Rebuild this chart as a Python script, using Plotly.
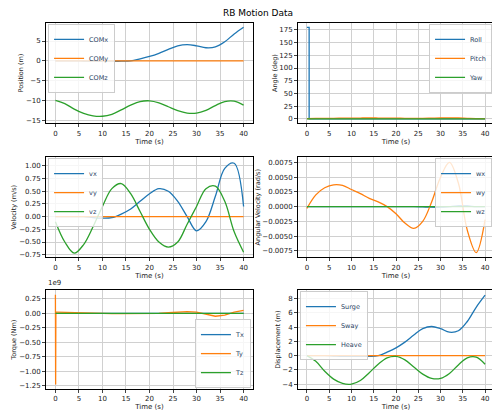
import plotly.graph_objects as go

t = list(range(0, 41, 2))
com_x = [0, 0, 0, -0.05, -0.1, -0.1, -0.1, -0.1, 0, 0.5, 1.1, 1.9, 2.9, 3.8, 4.1, 3.8, 3.3, 3.5, 4.8, 6.8, 8.5]
com_y = [0] * 21
com_z = [-10, -10.8, -12.2, -13.3, -13.9, -14, -13.5, -12.4, -11.2, -10.3, -10.1, -10.6, -11.6, -12.6, -13.2, -13.2, -12.5, -11.3, -10.3, -10.2, -11.2]
heave = [v + 10 for v in com_z]

t_roll = [0, 0.5, 0.5, 40]
roll = [180, 180, 0, 0]
pitch = [0.5, 0.8, 1.0, 1.0, 1.2, 1.4, 1.5, 1.6, 1.5, 1.4, 1.2, 1.0, 0.9, 1.0, 1.3, 1.6, 1.8, 1.6, 1.0, 0.5, 0.3]
yaw = [0] * 21

vx = [0, 0, 0, 0, -0.02, -0.03, -0.02, 0.05, 0.15, 0.3, 0.45, 0.55, 0.5, 0.3, 0, -0.28, -0.1, 0.4, 0.95, 1.05, 0.2]
vy = [0] * 21
vz = [-0.1, -0.5, -0.72, -0.55, -0.2, 0.2, 0.55, 0.65, 0.45, 0.1, -0.25, -0.5, -0.6, -0.5, -0.15, 0.2, 0.55, 0.6, 0.3, -0.3, -0.7]

wx = [0, 0, 0, 0, 0, 0, 0, 0, 0, 0, 0, 0, 0, -0.00005, -0.0001, -0.0001, 0, 0.0001, 0.0001, 0, 0]
wy = [-0.0003, 0.002, 0.0032, 0.0037, 0.0036, 0.0029, 0.0022, 0.0014, 0.0008, 0.0, -0.0012, -0.0028, -0.0037, -0.0025, 0.0008, 0.005, 0.0075, 0.004, -0.004, -0.0078, -0.0022]
wz = [0] * 21

t_torque = [0, 0.05, 0.1, 0.3] + list(range(2, 41, 2))
tx = [0] * 24
ty = [0.32, -1.23, 0.02, 0.02, 0.015, 0.01, 0.005, 0, -0.005, -0.005, -0.005, -0.005, -0.005, -0.005, 0, 0.01, 0.025, 0.03, 0.02, -0.02, -0.05, -0.03, 0.02, 0.05]
tz = [0] * 24

C = ['#1f77b4', '#ff7f0e', '#2ca02c']
fig = go.Figure()

xd = [[38/500, 245/500], [290/500, 486/500]]
yd = [[0.72, 0.964], [0.395, 0.638], [0.075, 0.315]]

panels = [
    (0, 0, [(t, com_x, 'COMx', 'spline'), (t, com_y, 'COMy', 'linear'), (t, com_z, 'COMz', 'spline')], 'Position (m)', [-15.8, 9.6], dict(x=0.01, y=0.99, xanchor='left', yanchor='top'), dict(dtick=5)),
    (0, 1, [(t_roll, roll, 'Roll', 'linear'), (t, pitch, 'Pitch', 'spline'), (t, yaw, 'Yaw', 'linear')], 'Angle (deg)', [-9, 189], dict(x=0.99, y=0.99, xanchor='right', yanchor='top'), dict(dtick=25)),
    (1, 0, [(t, vx, 'vx', 'spline'), (t, vy, 'vy', 'linear'), (t, vz, 'vz', 'spline')], 'Velocity (m/s)', [-0.8, 1.17], dict(x=0.01, y=0.99, xanchor='left', yanchor='top'), dict(dtick=0.25, tickformat='.2f')),
    (1, 1, [(t, wx, 'wx', 'spline'), (t, wy, 'wy', 'spline'), (t, wz, 'wz', 'linear')], 'Angular Velocity (rad/s)', [-0.0086, 0.0084], dict(x=0.99, y=0.99, xanchor='right', yanchor='top'), dict(dtick=0.0025, tickformat='.4f')),
    (2, 0, [(t_torque, tx, 'Tx', 'linear'), (t_torque, ty, 'Ty', 'linear'), (t_torque, tz, 'Tz', 'linear')], 'Torque (Nm)', [-1.31, 0.40], dict(x=0.99, y=0.01, xanchor='right', yanchor='bottom'), dict(dtick=0.25, tickformat='.2f')),
    (2, 1, [(t, com_x, 'Surge', 'spline'), (t, com_y, 'Sway', 'linear'), (t, heave, 'Heave', 'spline')], 'Displacement (m)', [-4.7, 9.2], dict(x=0.01, y=0.99, xanchor='left', yanchor='top'), dict(dtick=2)),
]

axfont = dict(family='DejaVu Sans', size=7, color='#222')
for i, (r, c, series, ylab, yr, lg, yextra) in enumerate(panels):
    n = i + 1
    xa = 'x' if n == 1 else f'x{n}'
    ya = 'y' if n == 1 else f'y{n}'
    lgname = 'legend' if n == 1 else f'legend{n}'
    for j, (xs, ys, name, shape) in enumerate(series):
        fig.add_trace(go.Scatter(x=xs, y=ys, name=name, mode='lines', line=dict(color=C[j], width=1.3, shape=shape),
                                 xaxis=xa, yaxis=ya, legend=lgname))
    common = dict(showline=True, linecolor='black', linewidth=0.8, mirror=True, showgrid=True, gridcolor='#d0d0d0',
                  gridwidth=0.8, zeroline=False, ticks='outside', ticklen=3, tickfont=axfont)
    fig.layout[f'xaxis{"" if n == 1 else n}'] = dict(domain=xd[c], anchor=ya, range=[-2, 42], dtick=5,
                                                     title=dict(text='Time (s)', font=axfont, standoff=1), **common)
    fig.layout[f'yaxis{"" if n == 1 else n}'] = dict(domain=yd[r], anchor=xa, range=yr,
                                                     title=dict(text=ylab, font=dict(family='DejaVu Sans', size=6.5, color='#222'), standoff=1), **common, **yextra)
    lgd = dict(xref='paper', yref='paper', bgcolor='rgba(255,255,255,0.8)', bordercolor='#ccc', borderwidth=1,
               font=dict(family='DejaVu Sans', size=6.5), itemwidth=30, tracegroupgap=0)
    x0, x1 = xd[c]; y0, y1 = yd[r]
    lgd['x'] = x0 + lg['x'] * (x1 - x0)
    lgd['y'] = y0 + lg['y'] * (y1 - y0)
    lgd['xanchor'] = lg['xanchor']; lgd['yanchor'] = lg['yanchor']
    fig.layout[lgname] = lgd

fig.add_annotation(text='1e9', xref='paper', yref='paper', x=38/500, y=0.318, xanchor='left', yanchor='bottom',
                   showarrow=False, font=axfont)

fig.update_layout(width=500, height=414, margin=dict(l=0, r=0, t=0, b=0), plot_bgcolor='white', paper_bgcolor='white',
                  title=dict(text='RB Motion Data', x=0.5, y=0.995, yanchor='top', font=dict(family='DejaVu Sans', size=9, color='black')))
fig.write_html('out.html')
